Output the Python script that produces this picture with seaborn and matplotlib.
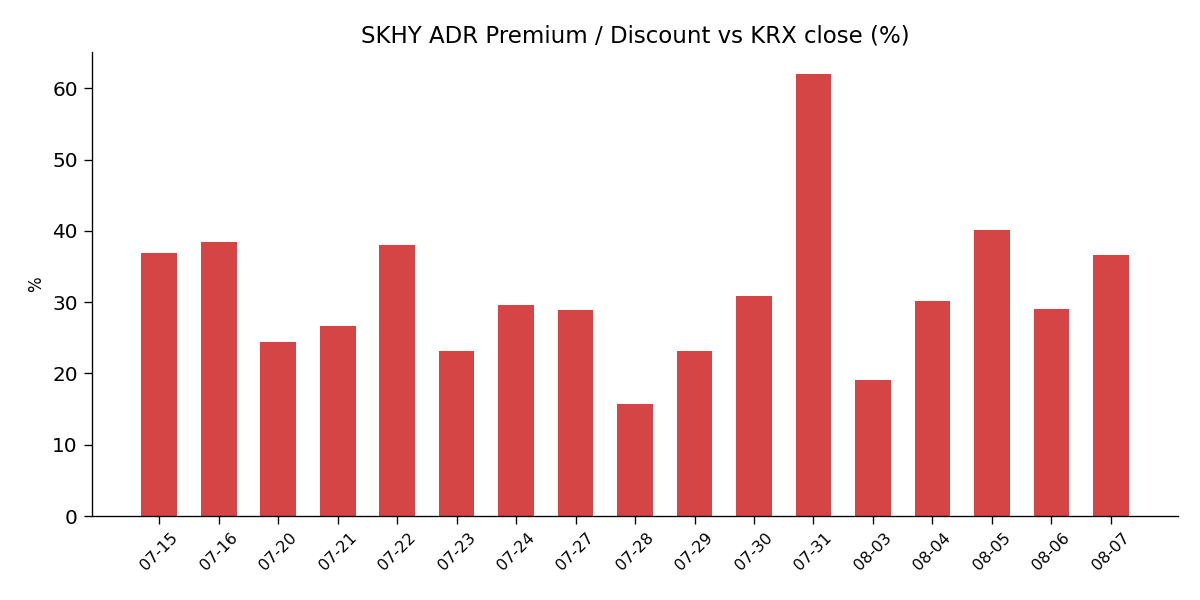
import matplotlib
matplotlib.use("Agg")
import matplotlib.pyplot as plt
import seaborn as sns
import pandas as pd

dates = ["07-15", "07-16", "07-20", "07-21", "07-22", "07-23", "07-24", "07-27", "07-28",
         "07-29", "07-30", "07-31", "08-03", "08-04", "08-05", "08-06", "08-07"]
premium = [36.9, 38.4, 24.4, 26.6, 38.0, 23.1, 29.6, 28.9, 15.7,
           23.1, 30.8, 62.0, 19.1, 30.1, 40.1, 29.0, 36.6]

df = pd.DataFrame({"date": dates, "premium": premium})

sns.set_style("ticks", {"axes.edgecolor": "black", "text.color": "black",
                        "xtick.color": "black", "ytick.color": "black",
                        "axes.labelcolor": "black"})
plt.rcParams['font.family'] = ['DejaVu Sans']

fig, ax = plt.subplots(figsize=(10, 5), dpi=120)
sns.barplot(data=df, x="date", y="premium", color="#d64545", saturation=1, width=0.6,
            linewidth=0, ax=ax)
ax.set_xlim(-1.13, len(dates) - 1 + 1.13)
ax.set_ylim(0, 65.1)
ax.set_title("SKHY ADR Premium / Discount vs KRX close (%)", fontsize=13.7)
ax.set_xlabel("")
ax.set_ylabel("%", fontsize=10)
ax.tick_params(axis="y", labelsize=12, length=5)
ax.tick_params(axis="x", labelsize=9.5, rotation=45, length=5)
for lbl in ax.get_xticklabels():
    lbl.set_ha("center")
sns.despine(ax=ax)
fig.subplots_adjust(left=0.0767, right=0.9817, top=0.9133, bottom=0.14)
fig.savefig("out.png", dpi=120)
